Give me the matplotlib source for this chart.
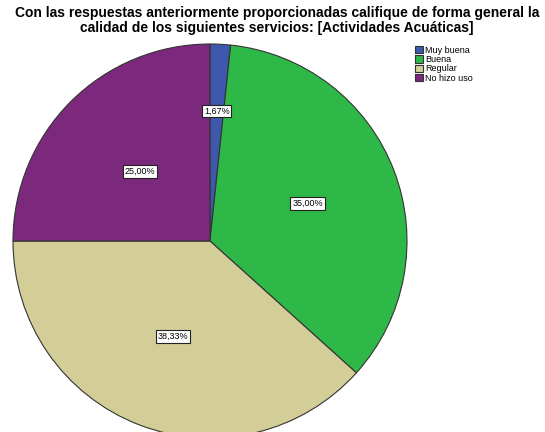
import matplotlib.pyplot as plt
import numpy as np

categorias = ["Muy buena", "Buena", "Regular", "No hizo uso"]
porcentajes = [1.67, 35.00, 38.33, 25.00]
colores = ["#3E58AC", "#2EB848", "#D3CE97", "#7C287D"]
etiquetas = ["1,67%", "35,00%", "38,33%", "25,00%"]
dist_etiqueta = [0.66, 0.53, 0.52, 0.50]

titulo = ("Con las respuestas anteriormente proporcionadas califique de forma general la\n"
          "calidad de los siguientes servicios: [Actividades Acuáticas]")

plt.rcParams['font.family'] = ['Liberation Sans', 'DejaVu Sans']

W, H = 545, 432
fig = plt.figure(figsize=(W / 100, H / 100), dpi=100)

# pie centred at (210, 241) px with a radius of 197 px
cx, cy, r = 210, 241, 197
ax = fig.add_axes([(cx - r) / W, 1 - (cy + r) / H, 2 * r / W, 2 * r / H])
wedges, _ = ax.pie(porcentajes, colors=colores, startangle=90, counterclock=False,
                   wedgeprops=dict(edgecolor="#333333", linewidth=0.8))
ax.set_xlim(-1, 1)
ax.set_ylim(-1, 1)
ax.set_aspect('equal')
ax.axis('off')

for w, txt, d in zip(wedges, etiquetas, dist_etiqueta):
    ang = np.deg2rad((w.theta1 + w.theta2) / 2)
    ax.text(d * np.cos(ang), d * np.sin(ang), txt, ha='center', va='center', fontsize=6.5,
            bbox=dict(boxstyle='square,pad=0.2', facecolor='white', edgecolor='#222222', linewidth=0.8))

fig.text(277 / W, 1 - 6 / H, titulo, ha='center', va='top', fontsize=10,
         fontweight='bold', linespacing=1.1)

fig.legend(wedges, categorias, loc='upper left', bbox_to_anchor=(415 / W, 1 - 46 / H),
           frameon=False, fontsize=6.5, handlelength=0.85, handleheight=0.85,
           handletextpad=0.3, labelspacing=0.02, borderpad=0, borderaxespad=0)

fig.savefig("out.png", dpi=100)
